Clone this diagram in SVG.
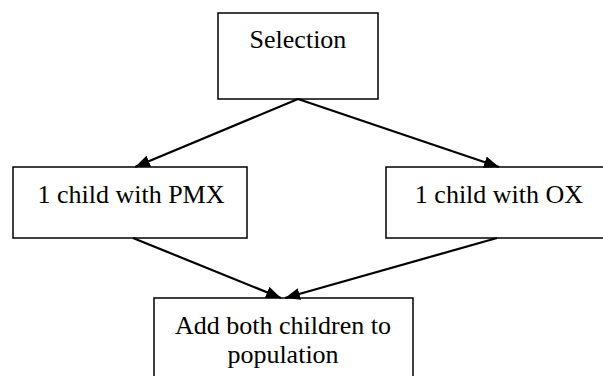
<svg xmlns="http://www.w3.org/2000/svg" width="603" height="376" viewBox="0 0 603 376">
<style>
.box{fill:#fff;stroke:#000;stroke-width:1.5}
.t{font-family:"Liberation Serif","Times New Roman",serif;font-size:26px;fill:#000;text-anchor:middle}
.c{stroke:#000;stroke-width:2.2;fill:none;marker-end:url(#ah)}
</style>
<defs>
<marker id="ah" viewBox="0 0 10 10" refX="10" refY="5" markerWidth="15" markerHeight="12" markerUnits="userSpaceOnUse" orient="auto" preserveAspectRatio="none">
<path d="M0,0 L10,5 L0,10 z" fill="#000"/>
</marker>
</defs>
<rect width="603" height="376" fill="#fff"/>
<g id="selection">
<rect class="box" x="218" y="13" width="160" height="86"/>
<text class="t" x="298" y="48">Selection</text>
</g>
<g id="pmx">
<rect class="box" x="13" y="167" width="234" height="71"/>
<text class="t" x="131" y="203">1 child with PMX</text>
</g>
<g id="ox">
<rect class="box" x="386" y="167" width="226" height="71"/>
<text class="t" x="499" y="203">1 child with OX</text>
</g>
<g id="add">
<rect class="box" x="154" y="298" width="259" height="90"/>
<text class="t" x="283" y="334">Add both children to</text>
<text class="t" x="283" y="363">population</text>
</g>
<g id="connectors">
<line class="c" x1="298" y1="99" x2="135" y2="167"/>
<line class="c" x1="298" y1="99" x2="499" y2="167"/>
<line class="c" x1="133" y1="238" x2="281" y2="298"/>
<line class="c" x1="497" y1="238" x2="285" y2="298"/>
</g>
</svg>
